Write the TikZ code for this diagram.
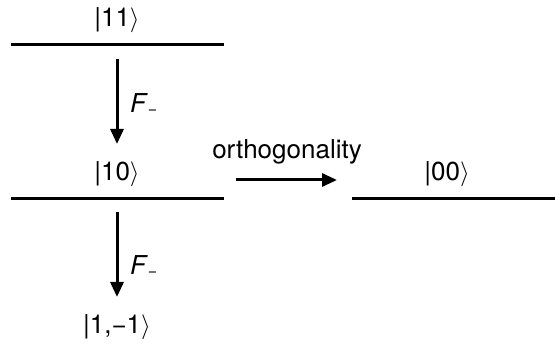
\documentclass[tikz,border=0pt]{standalone}
\usepackage{fontspec}
\setmainfont{TeX Gyre Heros}
\usetikzlibrary{arrows.meta}
\tikzset{
  lvl/.style={line width=3pt},
  trans/.style={line width=3pt,-{Triangle[length=15pt,width=13pt]}},
  lab/.style={font=\fontsize{26}{30}\selectfont, inner sep=0pt},
}
\newcommand{\kt}[1]{|#1$\rangle$}
\begin{document}
\begin{tikzpicture}[x=1pt,y=-1pt]
\useasboundingbox (0,0) rectangle (555,347);
% levels
\coordinate (l11a) at (11,45);  \coordinate (l11b) at (224,45);
\coordinate (l10a) at (11,199); \coordinate (l10b) at (224,199);
\coordinate (l00a) at (352,199); \coordinate (l00b) at (555,199);
\draw[lvl] (l11a) -- (l11b);
\draw[lvl] (l10a) -- (l10b);
\draw[lvl] (l00a) -- (l00b);
% labels
\node[lab] (k11) at (117,20) {\kt{11}};
\node[lab] (k10) at (117,174) {\kt{10}};
\node[lab] (k00) at (447,174) {\kt{00}};
\node[lab] (k1m) at (117,327) {\kt{1,−1}};
% arrows
\coordinate (a1s) at (117,59); \coordinate (a1e) at (117,144);
\coordinate (a2s) at (117,212); \coordinate (a2e) at (117,297);
\coordinate (a3s) at (236,180); \coordinate (a3e) at (337,180);
\draw[trans] (a1s) -- (a1e);
\draw[trans] (a2s) -- (a2e);
\draw[trans] (a3s) -- (a3e);
\node[lab, anchor=west] (f1) at (130,104) {\textit{F}\raisebox{-0.2ex}{\fontsize{16}{16}\selectfont −}};
\node[lab, anchor=west] (f2) at (130,266) {\textit{F}\raisebox{-0.2ex}{\fontsize{16}{16}\selectfont −}};
\node[lab] (orth) at (287,152) {orthogonality};
\end{tikzpicture}
\end{document}
